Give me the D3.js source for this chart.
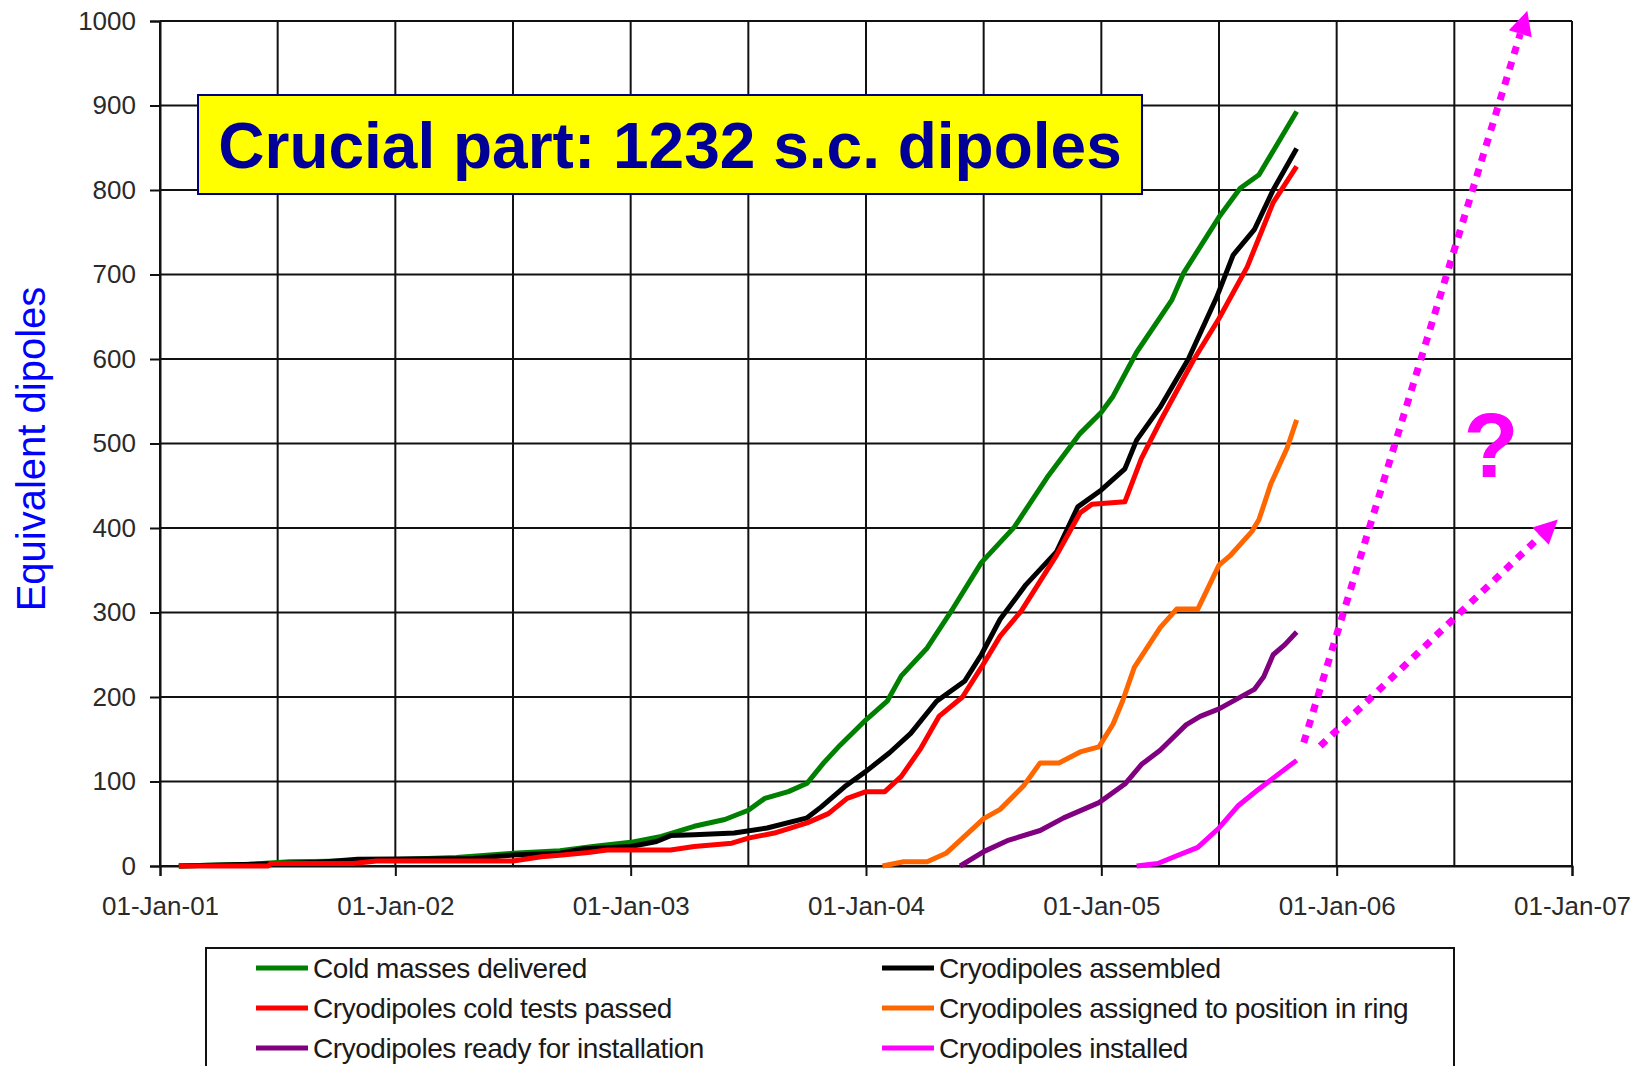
<!DOCTYPE html>
<html>
<head>
<meta charset="utf-8">
<script src="https://cdn.jsdelivr.net/npm/d3@7/dist/d3.min.js"></script>
<style>
  html, body { margin: 0; padding: 0; background: #fff; }
  svg { display: block; font-family: "Liberation Sans", Arial, sans-serif; }
</style>
</head>
<body>
<svg id="chart" width="1637" height="1066"></svg>
<script>
// ---------------- DATA ----------------
const yearTicks = [2001, 2002, 2003, 2004, 2005, 2006, 2007];
const yearTickLabels = ["01-Jan-01", "01-Jan-02", "01-Jan-03", "01-Jan-04", "01-Jan-05", "01-Jan-06", "01-Jan-07"];
const gridYears = [2001, 2001.5, 2002, 2002.5, 2003, 2003.5, 2004, 2004.5, 2005, 2005.5, 2006, 2006.5, 2007];
const valueTicks = [0, 100, 200, 300, 400, 500, 600, 700, 800, 900, 1000];

const seriesNames = [
  "Cold masses delivered",
  "Cryodipoles assembled",
  "Cryodipoles cold tests passed",
  "Cryodipoles assigned to position in ring",
  "Cryodipoles ready for installation",
  "Cryodipoles installed"
];
const seriesColors = ["#008000", "#000000", "#ff0000", "#ff6600", "#800080", "#ff00ff"];

// [decimal year, equivalent dipoles]
const coldMassesDelivered = [
  [2001.08,0],[2001.38,2],[2001.55,5],[2001.82,6],[2002.26,10],[2002.5,15],[2002.7,18],[2002.84,23],
  [2003.0,28],[2003.13,35],[2003.27,47],[2003.4,55],[2003.5,66],[2003.57,80],[2003.67,88],[2003.75,98],
  [2003.82,122],[2003.89,143],[2004.0,173],[2004.09,195],[2004.15,225],[2004.26,258],[2004.37,305],
  [2004.49,359],[2004.63,401],[2004.77,460],[2004.91,512],[2005.0,537],[2005.05,556],[2005.15,608],
  [2005.3,670],[2005.35,702],[2005.5,768],[2005.59,802],[2005.67,818],[2005.83,893]
];
const cryodipolesAssembled = [
  [2001.08,0],[2001.4,2],[2001.65,4],[2001.84,8],[2002.33,9],[2002.5,13],[2002.7,15],[2002.79,20],
  [2003.0,23],[2003.11,29],[2003.17,36],[2003.27,37],[2003.44,39],[2003.58,45],[2003.75,57],[2003.81,70],
  [2003.91,94],[2004.0,112],[2004.1,134],[2004.19,157],[2004.3,195],[2004.42,219],[2004.49,250],
  [2004.57,292],[2004.68,333],[2004.81,372],[2004.9,425],[2005.0,445],[2005.1,470],[2005.15,504],
  [2005.25,543],[2005.37,600],[2005.49,673],[2005.56,723],[2005.65,753],[2005.73,800],[2005.83,849]
];
const coldTestsPassed = [
  [2001.08,0],[2001.46,0],[2001.47,3],[2001.82,3],[2001.92,6],[2002.5,6],[2002.62,11],[2002.71,13],
  [2002.82,16],[2002.9,19],[2003.17,19],[2003.27,23],[2003.43,27],[2003.5,33],[2003.61,39],[2003.75,51],
  [2003.84,62],[2003.92,80],[2004.0,88],[2004.08,88],[2004.15,106],[2004.23,138],[2004.31,177],
  [2004.41,200],[2004.49,235],[2004.57,272],[2004.66,302],[2004.81,368],[2004.91,418],[2004.96,428],
  [2005.1,431],[2005.17,482],[2005.25,526],[2005.39,598],[2005.5,648],[2005.62,709],[2005.73,785],[2005.83,828]
];
const assignedToPosition = [
  [2004.07,0],[2004.16,5],[2004.26,5],[2004.34,15],[2004.43,38],[2004.5,56],[2004.57,67],[2004.67,95],
  [2004.74,122],[2004.82,122],[2004.91,135],[2004.99,141],[2005.05,168],[2005.09,195],[2005.14,235],
  [2005.25,282],[2005.32,304],[2005.41,304],[2005.5,356],[2005.55,368],[2005.64,396],[2005.67,410],
  [2005.72,452],[2005.79,495],[2005.83,528]
];
const readyForInstallation = [
  [2004.4,0],[2004.5,17],[2004.6,30],[2004.74,42],[2004.84,57],[2004.99,75],[2005.1,97],[2005.17,120],
  [2005.25,137],[2005.36,167],[2005.42,177],[2005.5,186],[2005.65,209],[2005.69,224],[2005.73,250],
  [2005.78,262],[2005.83,277]
];
const installed = [
  [2005.15,0],[2005.24,3],[2005.31,11],[2005.41,22],[2005.5,45],[2005.58,71],[2005.66,89],[2005.73,104],[2005.83,125]
];
const allSeries = [coldMassesDelivered, cryodipolesAssembled, coldTestsPassed, assignedToPosition, readyForInstallation, installed];

// projected (dotted) arrows: [start, end]
const projectionFast = [[2005.86,146],[2006.81,1012]];
const projectionSlow = [[2005.93,142],[2006.94,410]];

const titleText = "Crucial part: 1232 s.c. dipoles";
const yAxisTitle = "Equivalent dipoles";

// ---------------- CHART ----------------
(function () {
const svg = d3.select("#chart");
const mLeft = 160, mRight = 1572, mTop = 21, mBottom = 866;

const x = d3.scaleLinear().domain([2001, 2007]).range([mLeft, mRight]);
const y = d3.scaleLinear().domain([0, 1000]).range([mBottom, mTop]);

// gridlines
const grid = svg.append("g");
grid.selectAll("line.h").data(valueTicks).join("line").attr("class", "h")
  .attr("x1", mLeft).attr("x2", mRight)
  .attr("y1", d => y(d)).attr("y2", d => y(d))
  .attr("stroke", "#111").attr("stroke-width", 2);
grid.selectAll("line.v").data(gridYears).join("line").attr("class", "v")
  .attr("x1", d => x(d)).attr("x2", d => x(d))
  .attr("y1", mTop).attr("y2", mBottom)
  .attr("stroke", "#111").attr("stroke-width", 2);

// axes
const yAxis = d3.axisLeft(y).tickValues(valueTicks).tickSize(10).tickPadding(14).tickFormat(d3.format("d"));
const gy = svg.append("g").attr("transform", `translate(${mLeft},0)`).call(yAxis);
gy.select(".domain").attr("stroke", "#111").attr("stroke-width", 2);
gy.selectAll(".tick line").attr("stroke", "#111").attr("stroke-width", 2);
gy.selectAll(".tick text").attr("font-size", 26).attr("fill", "#2a2a2a")
  .attr("font-family", "'Liberation Sans', Arial, sans-serif");

const xAxis = d3.axisBottom(x).tickValues(yearTicks).tickSize(10).tickPadding(21)
  .tickFormat((d, i) => yearTickLabels[i]);
const gx = svg.append("g").attr("transform", `translate(0,${mBottom})`).call(xAxis);
gx.select(".domain").attr("stroke", "#111").attr("stroke-width", 2);
gx.selectAll(".tick line").attr("stroke", "#111").attr("stroke-width", 2);
gx.selectAll(".tick text").attr("font-size", 26).attr("fill", "#2a2a2a")
  .attr("font-family", "'Liberation Sans', Arial, sans-serif");

// y axis title
svg.append("text")
  .attr("transform", `translate(45,449) rotate(-90)`)
  .attr("text-anchor", "middle")
  .attr("font-size", 40).attr("fill", "#0000ff")
  .text(yAxisTitle);

// series lines
const line = d3.line().x(d => x(d[0])).y(d => y(d[1]));
svg.append("g").selectAll("path").data(allSeries).join("path")
  .attr("d", line)
  .attr("fill", "none")
  .attr("stroke", (d, i) => seriesColors[i])
  .attr("stroke-width", 5)
  .attr("stroke-linejoin", "round");

// dotted projections with arrowheads
function drawArrow(seg) {
  const [p0, p1] = seg;
  const x0 = x(p0[0]), y0 = y(p0[1]), x1 = x(p1[0]), y1 = y(p1[1]);
  const dx = x1 - x0, dy = y1 - y0, len = Math.hypot(dx, dy);
  const ux = dx / len, uy = dy / len;
  const headLen = 24, headW = 12;
  const bx = x1 - ux * headLen, by = y1 - uy * headLen;
  svg.append("line")
    .attr("x1", x0).attr("y1", y0).attr("x2", bx).attr("y2", by)
    .attr("stroke", "#ff00ff").attr("stroke-width", 7)
    .attr("stroke-dasharray", "8,8");
  const pts = [[x1, y1], [bx - uy * headW, by + ux * headW], [bx + uy * headW, by - ux * headW]];
  svg.append("path").attr("d", "M" + pts.map(p => p.join(",")).join("L") + "Z").attr("fill", "#ff00ff");
}
drawArrow(projectionFast);
drawArrow(projectionSlow);

svg.append("text")
  .attr("x", 1491).attr("y", 477)
  .attr("text-anchor", "middle")
  .attr("font-size", 90).attr("font-weight", "bold").attr("fill", "#ff00ff")
  .text("?");

// title box
svg.append("rect")
  .attr("x", 198).attr("y", 95).attr("width", 944).attr("height", 99)
  .attr("fill", "#ffff00").attr("stroke", "#000080").attr("stroke-width", 2);
svg.append("text")
  .attr("x", 670).attr("y", 168)
  .attr("text-anchor", "middle")
  .attr("font-size", 64).attr("font-weight", "bold").attr("fill", "#000099")
  .text(titleText);

// legend
const legend = svg.append("g");
legend.append("rect")
  .attr("x", 206).attr("y", 948).attr("width", 1248).attr("height", 140)
  .attr("fill", "#fff").attr("stroke", "#111").attr("stroke-width", 2);
const legendPos = seriesNames.map((n, i) => ({ col: i % 2, row: Math.floor(i / 2) }));
const legItems = legend.selectAll("g.item").data(seriesNames).join("g").attr("class", "item")
  .attr("transform", (d, i) => `translate(${legendPos[i].col ? 882 : 256},${968 + legendPos[i].row * 40})`);
legItems.append("line")
  .attr("x1", 0).attr("x2", 52).attr("y1", 0).attr("y2", 0)
  .attr("stroke", (d, i) => seriesColors[i]).attr("stroke-width", 5);
legItems.append("text")
  .attr("x", 57).attr("y", 10)
  .attr("font-size", 28).attr("letter-spacing", -0.45).attr("fill", "#1a1a1a")
  .text(d => d);
})();
</script>
</body>
</html>
